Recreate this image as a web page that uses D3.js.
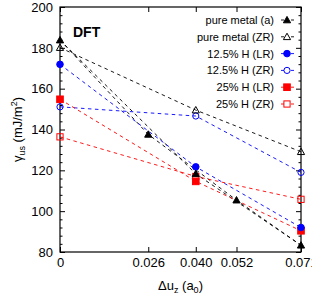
<!DOCTYPE html>
<html>
<head>
<meta charset="utf-8">
<script src="https://cdn.jsdelivr.net/npm/d3@7"></script>
<style>
  html, body { margin: 0; padding: 0; background: #fff; }
  svg { display: block; font-family: "Liberation Sans", Arial, Helvetica, sans-serif; }
</style>
</head>
<body>
<div id="chart"></div>
<script>
// values
const xTicks = [0, 0.026, 0.040, 0.052, 0.071]
const yTicks = [80, 100, 120, 140, 160, 180, 200]

const xPure = [0, 0.026, 0.040, 0.052, 0.071]
const pureA = [183.8, 137.6, 118.3, 105.4, 83.3]
// pure metal (a) is drawn as two broken lines through subsets of its points
const pureAPaths = [[0, 1, 3, 4], [0, 2, 4]]

const xH = [0, 0.040, 0.071]
const pureZR = [180.1, 149.5, 129.1]
const h125LR = [171.9, 121.7, 92.0]
const h125ZR = [151.1, 146.6, 119.0]
const h25LR = [154.8, 114.6, 90.4]
const h25ZR = [136.4, 117.0, 105.8]

const seriesNames = ['pure metal (a)', 'pure metal (ZR)', '12.5% H (LR)', '12.5% H (ZR)', '25% H (LR)', '25% H (ZR)']

const W = 312, H = 296
const margin = { top: 7, right: 11, bottom: 44, left: 60 }

const svg = d3.select('#chart').append('svg')
  .attr('width', W).attr('height', H)

const x = d3.scaleLinear().domain([0, 0.071]).range([margin.left, W - margin.right])
const y = d3.scaleLinear().domain([80, 200]).range([H - margin.bottom, margin.top])

const x0 = x.range()[0], x1 = x.range()[1]
const y0 = y.range()[0], y1 = y.range()[1]

// axes (ticks point inward, gnuplot style)
const fmtX = d => d === 0 ? '0' : d3.format('.3f')(d)

svg.append('g')
  .attr('transform', `translate(0,${y0})`)
  .call(d3.axisBottom(x).tickValues(xTicks).tickSize(-5).tickPadding(6).tickFormat(fmtX))
svg.append('g')
  .attr('transform', `translate(0,${y1})`)
  .call(d3.axisTop(x).tickValues(xTicks).tickSize(-5).tickFormat(''))
svg.append('g')
  .attr('transform', `translate(${x0},0)`)
  .call(d3.axisLeft(y).tickValues(yTicks).tickSize(-5).tickPadding(7))
svg.append('g')
  .attr('transform', `translate(${x1},0)`)
  .call(d3.axisRight(y).tickValues(yTicks).tickSize(-5).tickFormat(''))

// minor y ticks every 4
const minor = d3.range(80, 201, 4).filter(v => v % 20 !== 0)
svg.append('g')
  .attr('transform', `translate(${x0},0)`)
  .call(d3.axisLeft(y).tickValues(minor).tickSize(-2.5).tickFormat(''))
svg.append('g')
  .attr('transform', `translate(${x1},0)`)
  .call(d3.axisRight(y).tickValues(minor).tickSize(-2.5).tickFormat(''))

svg.selectAll('.domain').remove()
svg.selectAll('.tick line').attr('stroke', '#000')
svg.selectAll('.tick text').attr('fill', '#000').attr('font-size', 13)
  .attr('font-family', '"Liberation Sans", Arial, sans-serif')

// frame
svg.append('rect')
  .attr('x', x0).attr('y', y1)
  .attr('width', x1 - x0).attr('height', y0 - y1)
  .attr('fill', 'none').attr('stroke', '#000').attr('stroke-width', 1.2)

// lines
const line = d3.line().x(d => x(d[0])).y(d => y(d[1]))

function dashed(pts, color) {
  svg.append('path')
    .attr('d', line(pts))
    .attr('fill', 'none')
    .attr('stroke', color)
    .attr('stroke-width', 0.9)
    .attr('stroke-dasharray', '3.5,3.5')
}

pureAPaths.forEach(idx => dashed(idx.map(i => [xPure[i], pureA[i]]), '#000'))
const hSeries = [
  { v: pureZR, color: '#000', shape: 'tri', fill: false },
  { v: h125LR, color: '#0000ff', shape: 'circ', fill: true },
  { v: h125ZR, color: '#0000ff', shape: 'circ', fill: false },
  { v: h25LR, color: '#ff0000', shape: 'sq', fill: true },
  { v: h25ZR, color: '#ff0000', shape: 'sq', fill: false },
]
hSeries.forEach(s => dashed(xH.map((xv, i) => [xv, s.v[i]]), s.color))

// markers
function marker(g, cx, cy, shape, color, fill) {
  let el
  if (shape === 'tri') {
    el = g.append('path').attr('d', `M${cx},${cy - 3.6}L${cx + 3.6},${cy + 2.8}L${cx - 3.6},${cy + 2.8}Z`)
  } else if (shape === 'circ') {
    el = g.append('circle').attr('cx', cx).attr('cy', cy).attr('r', fill ? 3.3 : 3.1)
  } else {
    const s = fill ? 3.3 : 3.1
    el = g.append('rect').attr('x', cx - s).attr('y', cy - s).attr('width', 2 * s).attr('height', 2 * s)
  }
  el.attr('fill', fill ? color : 'none')
    .attr('stroke', color)
    .attr('stroke-width', 1)
}

const pts = svg.append('g')
hSeries.slice().reverse().forEach(s => {
  xH.forEach((xv, i) => marker(pts, x(xv), y(s.v[i]), s.shape, s.color, s.fill))
})
xPure.forEach((xv, i) => marker(pts, x(xv), y(pureA[i]), 'tri', '#000', true))

// legend
const legendStyles = [
  { color: '#000', shape: 'tri', fill: true },
  ...hSeries.map(s => ({ color: s.color, shape: s.shape, fill: s.fill }))
]
const lg = svg.append('g')
seriesNames.forEach((name, i) => {
  const ly = 20 + i * 16.8
  lg.append('text')
    .attr('x', 274).attr('y', ly).attr('dy', '0.36em')
    .attr('text-anchor', 'end')
    .attr('font-size', 11)
    .attr('fill', '#000')
    .text(name)
  lg.append('line')
    .attr('x1', 281).attr('x2', 294).attr('y1', ly).attr('y2', ly)
    .attr('stroke', legendStyles[i].color).attr('stroke-width', 0.9)
    .attr('stroke-dasharray', '3,7')
  marker(lg, 287, ly, legendStyles[i].shape, legendStyles[i].color, legendStyles[i].fill)
})

// DFT label
svg.append('text')
  .attr('x', 73).attr('y', 37)
  .attr('font-size', 14).attr('font-weight', 'bold')
  .text('DFT')

// axis titles
const yl = svg.append('text')
  .attr('transform', `translate(22,${(y0 + y1) / 2}) rotate(-90)`)
  .attr('text-anchor', 'middle')
  .attr('font-size', 13)
yl.append('tspan').text('γ')
yl.append('tspan').attr('font-size', 9).attr('dy', 3).text('us')
yl.append('tspan').attr('dy', -3).text(' (mJ/m')
yl.append('tspan').attr('font-size', 9).attr('dy', -5).text('2')
yl.append('tspan').attr('dy', 5).text(')')

const xl = svg.append('text')
  .attr('x', (x0 + x1) / 2).attr('y', 290)
  .attr('text-anchor', 'middle')
  .attr('font-size', 13)
xl.append('tspan').text('Δu')
xl.append('tspan').attr('font-size', 9).attr('dy', 3).text('z')
xl.append('tspan').attr('dy', -3).text(' (a')
xl.append('tspan').attr('font-size', 9).attr('dy', 3).text('0')
xl.append('tspan').attr('dy', -3).text(')')
</script>
</body>
</html>
